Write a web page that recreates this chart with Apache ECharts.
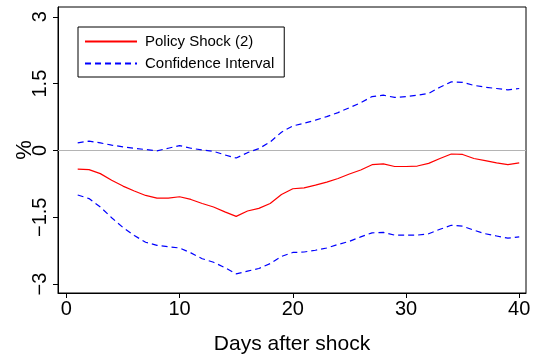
<!DOCTYPE html>
<html><head><meta charset="utf-8">
<script src="https://cdn.jsdelivr.net/npm/echarts@6/dist/echarts.min.js"></script>
<style>html,body{margin:0;padding:0;background:#fff}#c{width:533px;height:360px}</style>
</head><body><div id="c"></div>
<script>
const days = [1,2,3,4,5,6,7,8,9,10,11,12,13,14,15,16,17,18,19,20,21,22,23,24,25,26,27,28,29,30,31,32,33,34,35,36,37,38,39,40];
const policyShock = [-0.42,-0.43,-0.52,-0.67,-0.80,-0.91,-1.01,-1.07,-1.07,-1.04,-1.10,-1.19,-1.27,-1.38,-1.48,-1.36,-1.30,-1.19,-0.99,-0.86,-0.84,-0.78,-0.71,-0.63,-0.53,-0.44,-0.32,-0.30,-0.36,-0.36,-0.35,-0.29,-0.18,-0.08,-0.09,-0.18,-0.23,-0.28,-0.32,-0.28];
const ciUpper = [0.17,0.21,0.17,0.12,0.08,0.05,0.02,-0.01,0.05,0.11,0.05,0.01,-0.02,-0.10,-0.17,-0.05,0.04,0.19,0.41,0.55,0.61,0.68,0.76,0.85,0.96,1.07,1.21,1.24,1.19,1.21,1.24,1.28,1.42,1.54,1.53,1.46,1.42,1.39,1.36,1.39];
const ciLower = [-1.00,-1.08,-1.27,-1.51,-1.73,-1.91,-2.06,-2.13,-2.16,-2.19,-2.30,-2.43,-2.51,-2.63,-2.77,-2.71,-2.65,-2.54,-2.38,-2.29,-2.28,-2.24,-2.19,-2.11,-2.04,-1.94,-1.85,-1.84,-1.90,-1.90,-1.90,-1.87,-1.77,-1.68,-1.70,-1.79,-1.87,-1.92,-1.97,-1.94];
const xTicks = [0,10,20,30,40];
const yTicks = [-3,-1.5,0,1.5,3];
const seriesNames = ['Policy Shock (2)','Confidence Interval'];
const xTitle = 'Days after shock';
const yTitle = '%';

const FONT = 'Liberation Sans, Arial, Helvetica, sans-serif';
const pairs = vals => days.map((d,i)=>[d, vals[i]]);
const chart = echarts.init(document.getElementById('c'), null, {renderer:'canvas'});
chart.setOption({
  animation:false,
  backgroundColor:'#fff',
  textStyle:{fontFamily:FONT,color:'#000'},
  grid:{left:58,right:7,top:7,bottom:67,containLabel:false,outerBoundsMode:'none',
    show:true,borderColor:'#000',borderWidth:1,backgroundColor:'transparent'},
  legend:{
    data:seriesNames,orient:'vertical',left:78,top:27,
    padding:[7,10,6,6],itemGap:7,itemWidth:52,itemHeight:14,
    borderColor:'#000',borderWidth:1,backgroundColor:'#fff',
    itemStyle:{opacity:0,borderWidth:0},
    textStyle:{fontFamily:FONT,fontSize:15,color:'#000',padding:[0,0,0,3]}
  },
  xAxis:{
    type:'value',min:-0.74,max:40.6,
    name:xTitle,nameLocation:'middle',nameGap:41,nameMoveOverlap:false,
    nameTextStyle:{fontFamily:FONT,fontSize:21,color:'#000'},
    axisLine:{show:true,onZero:false,lineStyle:{color:'#000',width:1}},
    axisTick:{show:true,length:5,inside:false,customValues:xTicks,lineStyle:{color:'#000'}},
    axisLabel:{customValues:xTicks,fontFamily:FONT,fontSize:20,color:'#000',margin:6},
    splitLine:{show:false}
  },
  yAxis:{
    type:'value',min:-3.2,max:3.22,
    name:yTitle,nameLocation:'middle',nameGap:22,nameMoveOverlap:false,
    nameTextStyle:{fontFamily:FONT,fontSize:22,color:'#000'},
    axisLine:{show:true,onZero:false,lineStyle:{color:'#000',width:1}},
    axisTick:{show:true,length:5,inside:false,customValues:yTicks,lineStyle:{color:'#000'}},
    axisLabel:{customValues:yTicks,rotate:90,fontFamily:FONT,fontSize:20,color:'#000',margin:8,
      formatter:v=>(v<0?'\u2212'+Math.abs(v):String(v))},
    splitLine:{show:false}
  },
  series:[
    {name:seriesNames[0],type:'line',data:pairs(policyShock),symbol:'none',showSymbol:false,
     lineStyle:{color:'#ff0000',width:1.2},itemStyle:{color:'#ff0000'},z:3,
     markLine:{silent:true,symbol:'none',label:{show:false},
       lineStyle:{color:'#b4b4b4',type:'solid',width:1},data:[{yAxis:0}],z:1}},
    {name:seriesNames[1],type:'line',data:pairs(ciUpper),symbol:'none',showSymbol:false,
     lineStyle:{color:'#0000ff',width:1.2,type:[6,4]},itemStyle:{color:'#0000ff'},z:3},
    {name:seriesNames[1],type:'line',data:pairs(ciLower),symbol:'none',showSymbol:false,
     lineStyle:{color:'#0000ff',width:1.2,type:[6,4]},itemStyle:{color:'#0000ff'},z:3}
  ]
});
</script></body></html>
